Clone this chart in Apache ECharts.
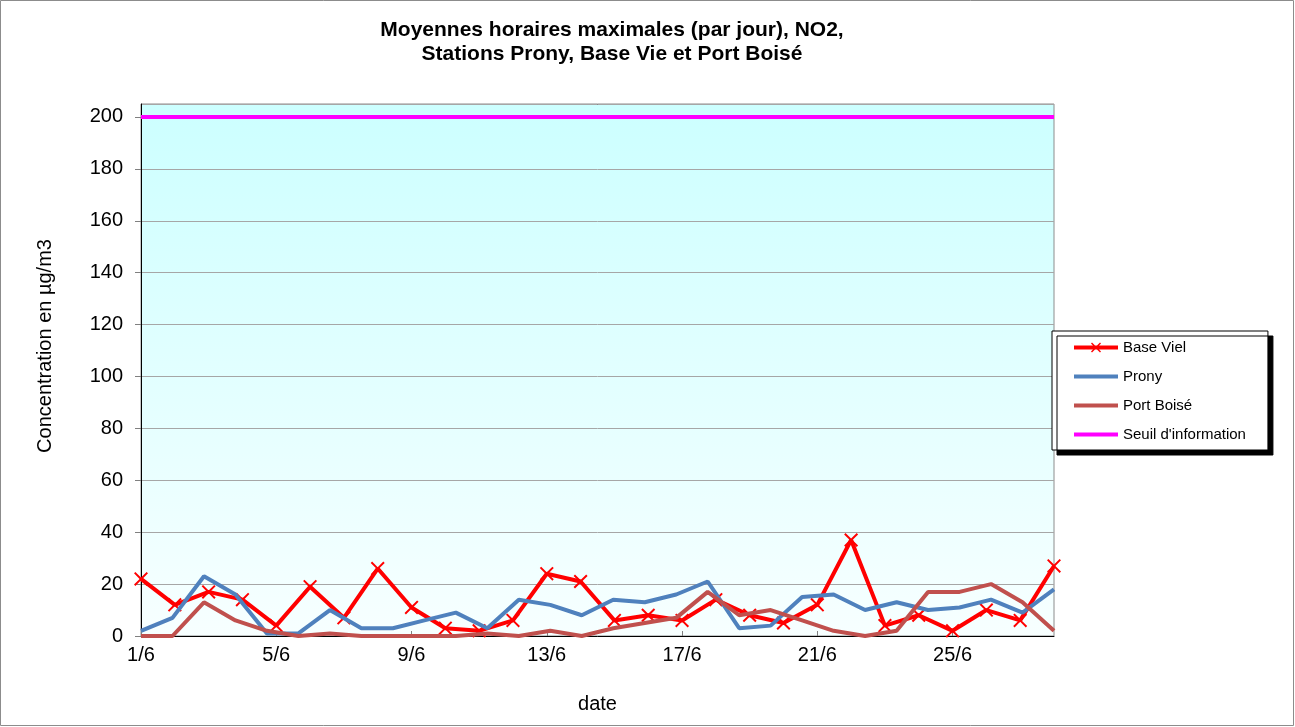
<!DOCTYPE html>
<html>
<head>
<meta charset="utf-8">
<script src="https://cdn.jsdelivr.net/npm/echarts@6/dist/echarts.min.js"></script>
<style>
  html, body { margin: 0; padding: 0; background: #fff; }
  #chart { width: 1295px; height: 727px; }
</style>
</head>
<body>
<div id="chart"></div>
<script>
// jours affichés sur l'axe (Base Viel : 28 valeurs)
const joursBaseViel = ["1/6","2/6","3/6","4/6","5/6","6/6","7/6","8/6","9/6","10/6","11/6","12/6","13/6","14/6",
  "15/6","16/6","17/6","18/6","19/6","20/6","21/6","22/6","23/6","24/6","25/6","26/6","27/6","28/6"];
// Prony et Port Boisé : 30 valeurs (axe secondaire caché)
const joursMois = ["1/6","2/6","3/6","4/6","5/6","6/6","7/6","8/6","9/6","10/6","11/6","12/6","13/6","14/6","15/6",
  "16/6","17/6","18/6","19/6","20/6","21/6","22/6","23/6","24/6","25/6","26/6","27/6","28/6","29/6","30/6"];

const baseViel = [22, 12, 17, 14, 4, 19, 7, 26, 11, 3, 2, 6, 24, 21, 6, 8, 6, 14, 8, 5, 12, 37, 4, 8, 2, 10, 6, 27];
const prony = [2, 7, 23, 16, 1, 1, 10, 3, 3, 6, 9, 3, 14, 12, 8, 14, 13, 16, 21, 3, 4, 15, 16, 10, 13, 10, 11, 14, 9, 18];
const portBoise = [0, 0, 13, 6, 2, 0, 1, 0, 0, 0, 0, 1, 0, 2, 0, 3, 5, 7, 17, 8, 10, 6, 2, 0, 2, 17, 17, 20, 13, 2];
const seuilInformation = 200;

const yTicks = [0, 20, 40, 60, 80, 100, 120, 140, 160, 180, 200];

const font = "Liberation Sans, Arial, sans-serif";
// croix pour les marqueurs de Base Viel
const croix = "path://M0,1L1,0L5,4L9,0L10,1L6,5L10,9L9,10L5,6L1,10L0,9L4,5Z";
// icônes de légende : trait épais (+ croix pour Base Viel)
const iconTrait = "path://M0,0H44V4H0Z";
const iconTraitCroix = "path://M0,4H44V8H0Z M17,2L18,1L22,5L26,1L27,2L23,6L27,10L26,11L22,7L18,11L17,10L21,6Z";

const chart = echarts.init(document.getElementById("chart"));

chart.setOption({
  backgroundColor: "#fff",
  animation: false,
  title: {
    text: "Moyennes horaires maximales (par jour), NO2,\nStations Prony, Base Vie et Port Boisé",
    left: 607,
    top: 13,
    textAlign: "center",
    textStyle: { fontFamily: font, fontSize: 21, fontWeight: "bold", color: "#000", lineHeight: 24 }
  },
  graphic: [{
    type: "rect",
    shape: { x: 0.5, y: 0.5, width: 1293, height: 725 },
    style: { fill: null, stroke: "#8c8c8c", lineWidth: 1 },
    silent: true
  }, {
    // bord supérieur noir de la zone de tracé
    type: "line",
    shape: { x1: 141, y1: 104.5, x2: 1054, y2: 104.5 },
    style: { stroke: "#000", lineWidth: 1 },
    silent: true
  }],
  legend: {
    orient: "vertical",
    left: 1052,
    top: 331,
    padding: [9, 22, 8, 22],
    itemWidth: 44,
    itemHeight: 14,
    itemGap: 14,
    backgroundColor: "#fff",
    borderColor: "#000",
    borderWidth: 1,
    shadowColor: "#000",
    shadowOffsetX: 5,
    shadowOffsetY: 5,
    shadowBlur: 0,
    textStyle: { fontFamily: font, fontSize: 15, color: "#000" },
    data: [
      { name: "Base Viel", icon: iconTraitCroix },
      { name: "Prony", icon: iconTrait },
      { name: "Port Boisé", icon: iconTrait },
      { name: "Seuil d'information", icon: iconTrait }
    ]
  },
  grid: {
    left: 141,
    right: 241,
    top: 104,
    bottom: 91,
    show: true,
    borderColor: "#8c8c8c",
    borderWidth: 1,
    backgroundColor: new echarts.graphic.LinearGradient(0, 0, 0, 1, [
      { offset: 0, color: "#ccffff" },
      { offset: 1, color: "#f7ffff" }
    ])
  },
  xAxis: [{
    type: "category",
    data: joursBaseViel,
    boundaryGap: false,
    name: "date",
    nameLocation: "middle",
    nameGap: 58,
    nameTextStyle: { fontFamily: font, fontSize: 20, color: "#000" },
    axisLine: { lineStyle: { color: "#000", width: 1 } },
    axisTick: { inside: true, length: 5, interval: 3, lineStyle: { color: "#808080" } },
    axisLabel: { interval: 3, margin: 9, fontFamily: font, fontSize: 20, color: "#000" }
  }, {
    type: "category",
    data: joursMois,
    boundaryGap: false,
    show: false
  }],
  yAxis: {
    type: "value",
    min: 0,
    max: 205,
    interval: 20,
    name: "Concentration en µg/m3",
    nameLocation: "middle",
    nameRotate: 90,
    nameGap: 86,
    nameTextStyle: { fontFamily: font, fontSize: 20, color: "#000", padding: [0, 0, 0, 48] },
    axisLine: { show: true, lineStyle: { color: "#000", width: 1 } },
    axisTick: { show: true, length: 6, lineStyle: { color: "#808080" } },
    axisLabel: {
      margin: 18, fontFamily: font, fontSize: 20, color: "#000",
      showMaxLabel: false,
      formatter: v => yTicks.includes(v) ? String(v) : ""
    },
    splitLine: { lineStyle: { color: "#a6a6a6", width: 1 } }
  },
  series: [
    {
      name: "Base Viel",
      type: "line",
      xAxisIndex: 0,
      data: baseViel,
      symbol: croix,
      symbolSize: 14,
      itemStyle: { color: "#ff0000" },
      lineStyle: { color: "#ff0000", width: 4 },
      z: 3
    },
    {
      name: "Prony",
      type: "line",
      xAxisIndex: 1,
      data: prony,
      symbol: "none",
      itemStyle: { color: "#4f81bd" },
      lineStyle: { color: "#4f81bd", width: 4 },
      z: 4
    },
    {
      name: "Port Boisé",
      type: "line",
      xAxisIndex: 1,
      data: portBoise,
      symbol: "none",
      itemStyle: { color: "#c0504d" },
      lineStyle: { color: "#c0504d", width: 4 },
      z: 5
    },
    {
      name: "Seuil d'information",
      type: "line",
      xAxisIndex: 0,
      data: [],
      symbol: "none",
      itemStyle: { color: "#ff00ff" },
      lineStyle: { color: "#ff00ff", width: 4 },
      markLine: {
        silent: true,
        symbol: "none",
        label: { show: false },
        lineStyle: { color: "#ff00ff", width: 4, type: "solid" },
        data: [{ yAxis: seuilInformation }]
      },
      z: 6
    }
  ]
});
</script>
</body>
</html>
